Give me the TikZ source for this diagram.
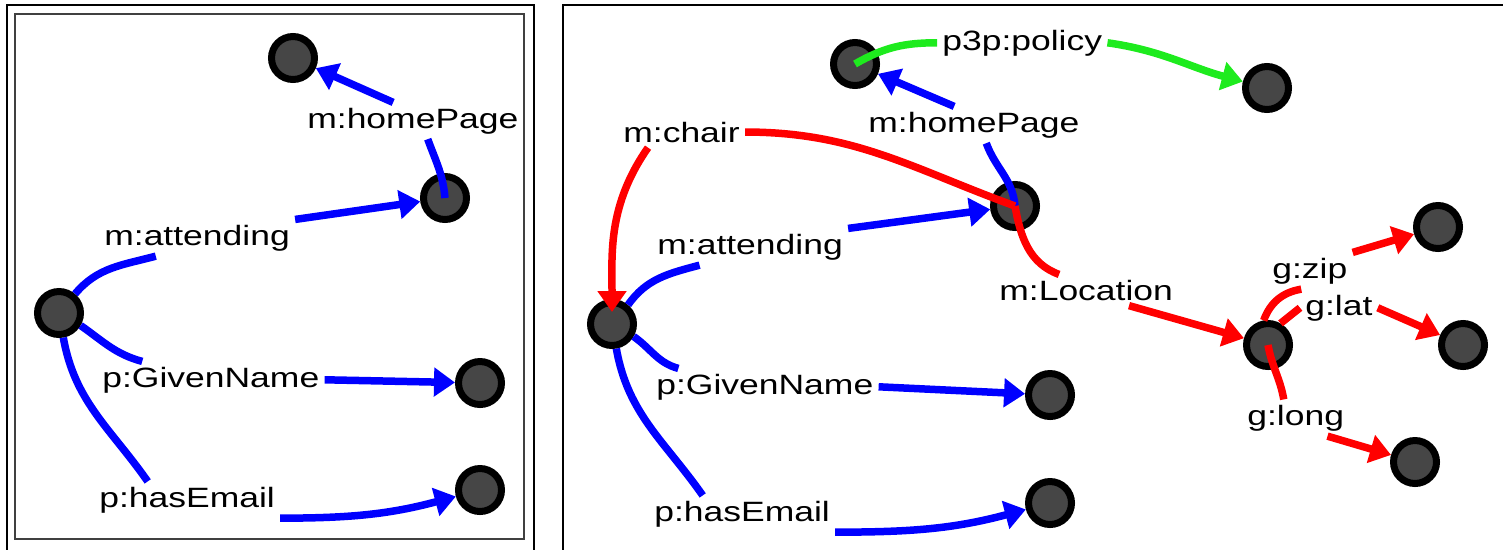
\documentclass[tikz,border=0pt]{standalone}
\usepackage{fontspec}
\setmainfont{Liberation Sans}[FakeStretch=1.27]
\usepackage{tikz}
\usetikzlibrary{arrows.meta}
\definecolor{resgray}{RGB}{70,70,70}
\definecolor{polgreen}{RGB}{30,235,30}
\tikzset{
  res/.style={circle, draw=black, fill=resgray, line width=0.14cm, minimum size=0.86cm, inner sep=0pt},
  prop/.style={inner sep=0.1cm, anchor=base west, font=\fontsize{15.9pt}{18pt}\selectfont},
  bl/.style={draw=blue, line width=0.15cm},
  rd/.style={draw=red, line width=0.15cm},
  gr/.style={draw=polgreen, line width=0.15cm},
  arr/.style={-{Triangle[length=0.42cm,width=0.56cm]}}
}
\begin{document}
\begin{tikzpicture}[x=0.02cm, y=0.02cm]
\useasboundingbox (0,0) rectangle (1503,-549);
\clip (0,0) rectangle (1503,-549);
\draw[line width=0.045cm] (7,-560) -- (7,-5) -- (534,-5) -- (534,-560);
\draw[black!75, line width=0.04cm] (15,-14) rectangle (524,-539);
\draw[line width=0.045cm] (563,-560) -- (563,-5) -- (1520,-5);
\node[res] (a1) at (293,-58) {};
\node[res] (b1) at (445,-198) {};
\node[res] (c1) at (59,-313) {};
\node[res] (d1) at (480,-383) {};
\node[res] (e1) at (480,-490) {};
\node[prop] (hp1) at (302,-128) {m:homePage};
\node[prop] (at1) at (99,-245) {m:attending};
\node[prop] (gn1) at (97,-387) {p:GivenName};
\node[prop] (he1) at (94,-507) {p:hasEmail};
\draw[bl] (b1.center) to[out=95,in=-70] (hp1.-51);
\draw[bl,arr] (hp1.137) -- (a1);
\draw[bl] (c1.50) to[out=50,in=195] (at1.204);
\draw[bl,arr] (at1.north east) -- (b1);
\draw[bl] (c1.-30) to[out=-35,in=165] (gn1.165);
\draw[bl,arr] (gn1.east) -- (d1);
\draw[bl] (c1.-80) to[out=-80,in=125] (he1.155);
\draw[bl,arr] (he1.south east) to[out=0,in=195] (e1);
\node[res] (n1) at (855,-64) {};
\node[res] (n2) at (1267,-88) {};
\node[res] (n3) at (1015,-206) {};
\node[res] (n4) at (612,-324) {};
\node[res] (n5) at (1050,-395) {};
\node[res] (n6) at (1050,-503) {};
\node[res] (n7) at (1268,-345) {};
\node[res] (n8) at (1438,-227) {};
\node[res] (n9) at (1463,-345) {};
\node[res] (n10) at (1415,-462) {};
\node[prop] (pol) at (937,-50) {p3p:policy};
\node[prop] (hp2) at (863,-132) {m:homePage};
\node[prop] (ch) at (618,-142) {m:chair};
\node[prop] (at2) at (652,-254) {m:attending};
\node[prop] (loc) at (994,-300) {m:Location};
\node[prop] (gn2) at (651,-394) {p:GivenName};
\node[prop] (he2) at (649,-521) {p:hasEmail};
\node[prop] (zip) at (1267,-278) {g:zip};
\node[prop] (lat) at (1300,-315) {g:lat};
\node[prop] (lng) at (1242,-425) {g:long};
\draw[gr] (n1.center) to[out=30,in=180] (pol.west);
\draw[gr,arr] (pol.east) to[out=-8,in=165] (n2);
\draw[bl] (n3.center) to[out=95,in=-70] (hp2.-56);
\draw[bl,arr] (hp2.137) -- (n1);
\draw[bl] (n4.50) to[out=55,in=195] (at2.200);
\draw[bl,arr] (at2.north east) -- (n3);
\draw[rd] (n3.center) to[out=160,in=0] (ch.east);
\draw[rd,arr,shorten >=0.24cm] (ch.205) to[out=235,in=90] (n4.center);
\draw[rd] (n3.center) to[out=-80,in=160] (loc.150);
\draw[rd,arr] (loc.-20) -- (n7);
\draw[bl] (n4.-30) to[out=-35,in=165] (gn2.168);
\draw[bl,arr] (gn2.east) -- (n5);
\draw[bl] (n4.-80) to[out=-80,in=125] (he2.155);
\draw[bl,arr] (he2.south east) to[out=0,in=195] (n6);
\draw[rd] (n7.100) to[bend left=30] (zip.245);
\draw[rd,arr] (zip.north east) -- (n8);
\draw[rd] (n7.60) -- (lat.west);
\draw[rd,arr] (lat.east) -- (n9);
\draw[rd] (n7.center) to[out=-80,in=100] (lng.123);
\draw[rd,arr] (lng.-30) -- (n10);
\end{tikzpicture}
\end{document}
